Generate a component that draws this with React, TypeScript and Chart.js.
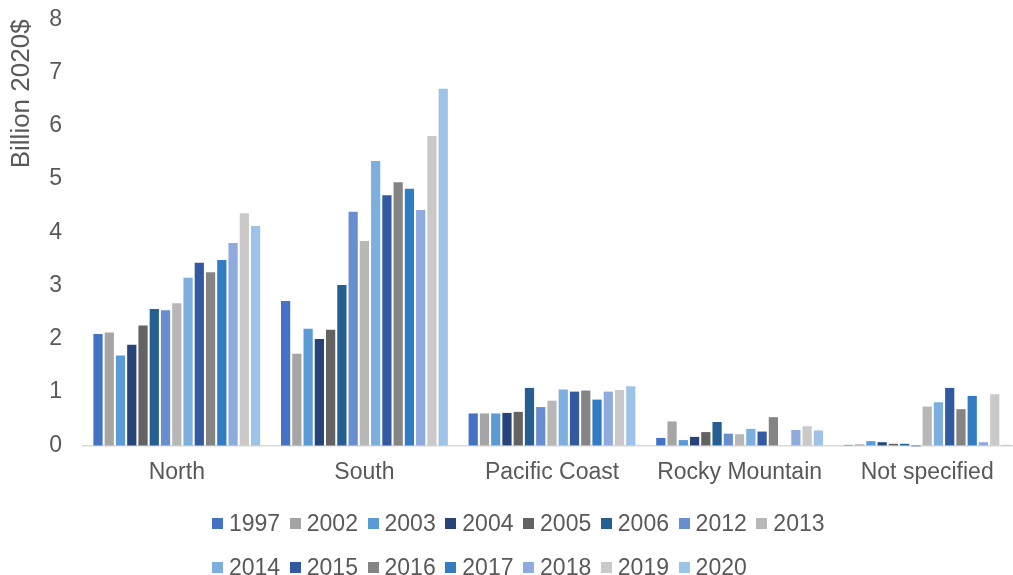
import React, { useEffect, useRef } from "react";
import { Chart, registerables } from "chart.js";

Chart.register(...registerables);

const categories = ["North", "South", "Pacific Coast", "Rocky Mountain", "Not specified"];
const years = ["1997", "2002", "2003", "2004", "2005", "2006", "2012", "2013", "2014", "2015", "2016", "2017", "2018", "2019", "2020"];
const colors = ["#4472C4", "#A5A5A5", "#5B9BD5", "#264478", "#636363", "#255E91", "#698ED0", "#B7B7B7", "#7CAFDD", "#335AA1", "#848484", "#327DC2", "#8FAADC", "#C9C9C9", "#9DC3E6"];

// values per region, ordered by year
const north = [2.09, 2.12, 1.69, 1.89, 2.25, 2.56, 2.54, 2.67, 3.15, 3.43, 3.25, 3.48, 3.80, 4.36, 4.12];
const south = [2.71, 1.72, 2.19, 2.0, 2.17, 3.01, 4.39, 3.84, 5.34, 4.70, 4.94, 4.82, 4.42, 5.81, 6.70];
const pacific = [0.6, 0.6, 0.6, 0.61, 0.63, 1.08, 0.72, 0.84, 1.05, 1.01, 1.03, 0.86, 1.01, 1.04, 1.11];
const rocky = [0.14, 0.45, 0.1, 0.16, 0.25, 0.44, 0.22, 0.21, 0.31, 0.26, 0.53, 0, 0.29, 0.36, 0.28];
const notSpecified = [0.01, 0.02, 0.08, 0.06, 0.03, 0.03, -0.02, 0.73, 0.81, 1.08, 0.68, 0.93, 0.06, 0.96, 0.01];

const yTicks = [0, 1, 2, 3, 4, 5, 6, 7, 8];
const yTitle = "Billion 2020$";

const FONT = "'Liberation Sans', Arial, sans-serif";
const TEXT = "#595959";

export default function App() {
  const ref = useRef<HTMLCanvasElement | null>(null);

  useEffect(() => {
    if (!ref.current) return;
    const regions = [north, south, pacific, rocky, notSpecified];
    const chart = new Chart(ref.current, {
      type: "bar",
      data: {
        labels: categories,
        datasets: years.map((y, i) => ({
          label: y,
          data: regions.map((r) => r[i]),
          backgroundColor: colors[i],
          borderWidth: 0,
          categoryPercentage: 0.9,
          barPercentage: 0.82,
          clip: false as any,
        })),
      },
      options: {
        animation: false,
        responsive: false,
        maintainAspectRatio: false,
        layout: { padding: { top: 19.4, left: 0, right: 0, bottom: 76 } },
        plugins: {
          legend: { display: false },
          tooltip: { enabled: false },
        },
        scales: {
          x: {
            grid: { display: false, drawTicks: false },
            border: { display: true, color: "#D9D9D9", width: 1.5 },
            ticks: { color: TEXT, font: { family: FONT, size: 23 }, padding: 13, maxRotation: 0 },
          },
          y: {
            min: 0,
            max: 8,
            afterBuildTicks: (scale: any) => {
              scale.ticks = yTicks.map((v) => ({ value: v }));
            },
            afterFit: (scale: any) => {
              scale.width = 83;
            },
            grid: { display: false, drawTicks: true, tickLength: 21 },
            border: { display: false },
            ticks: { color: TEXT, font: { family: FONT, size: 23 }, padding: 0 },
            title: {
              display: true,
              text: yTitle,
              align: "end",
              color: TEXT,
              font: { family: FONT, size: 26 },
              padding: { top: 6, bottom: 0 },
            },
          },
        },
      },
    });
    return () => chart.destroy();
  }, []);

  return (
    <div style={{ position: "absolute", left: 0, top: 0, width: 1013, height: 575, background: "#fff", overflow: "hidden" }}>
      <canvas ref={ref} width={1021} height={575} style={{ position: "absolute", left: 0, top: 0 }} />
      <div
        style={{
          position: "absolute",
          left: 212,
          top: 501,
          width: 640,
          display: "flex",
          flexWrap: "wrap",
          fontFamily: FONT,
          fontSize: 23,
          color: TEXT,
          lineHeight: "44px",
        }}
      >
        {years.map((y, i) => (
          <div key={y} style={{ display: "flex", alignItems: "center", marginRight: 9.6 }}>
            <span style={{ display: "inline-block", width: 11, height: 11, background: colors[i], marginRight: 6 }} />
            <span>{y}</span>
          </div>
        ))}
      </div>
    </div>
  );
}
